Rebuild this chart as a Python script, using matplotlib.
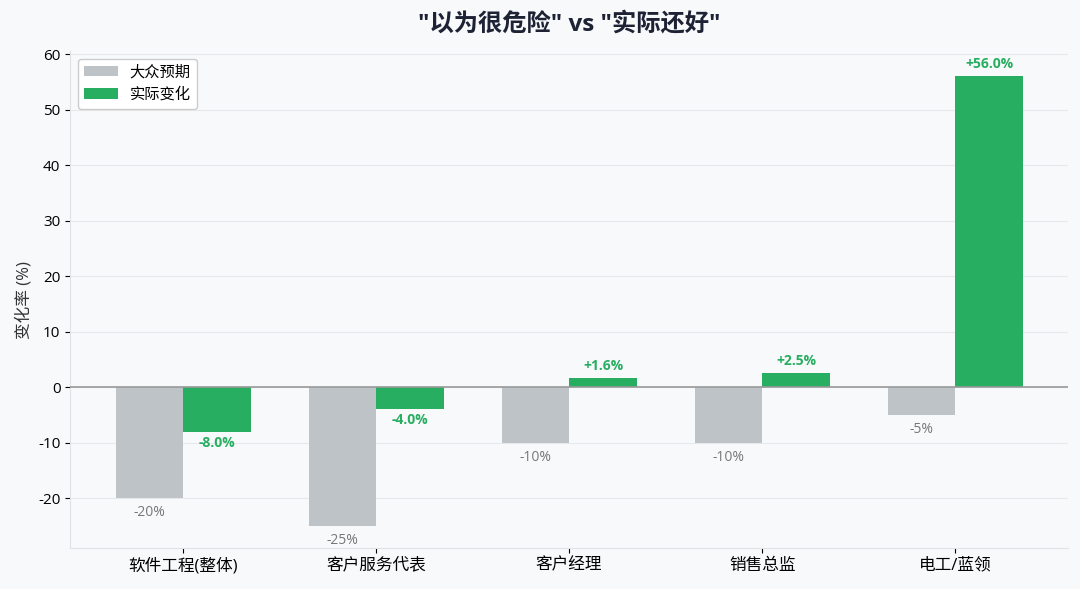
import numpy as np
import matplotlib
matplotlib.use('Agg')
import matplotlib.pyplot as plt

plt.rcParams['font.family'] = ['Open Sans', 'Noto Sans CJK SC', 'DejaVu Sans']
plt.rcParams['axes.unicode_minus'] = False

categories = ['软件工程(整体)', '客户服务代表', '客户经理', '销售总监', '电工/蓝领']
expected = [-20, -25, -10, -10, -5]
actual = [-8.0, -4.0, 1.6, 2.5, 56.0]

GRAY = '#bdc3c7'
GREEN = '#27ae60'
BG = '#f8f9fb'

fig = plt.figure(figsize=(10.8, 5.89), dpi=100, facecolor=BG)
ax = fig.add_axes([0.065, 0.0696, 0.924, 0.843])
ax.set_facecolor(BG)

x = np.arange(len(categories))
w = 0.35
b1 = ax.bar(x - w / 2, expected, w, color=GRAY, label='大众预期', zorder=2)
b2 = ax.bar(x + w / 2, actual, w, color=GREEN, label='实际变化', zorder=2)

# 标注
for rect, v in zip(b1, expected):
    ax.annotate(f'{v:d}%', (rect.get_x() + rect.get_width() / 2, v),
                xytext=(0, -5), textcoords='offset points',
                ha='center', va='top', fontsize=10, color='#777777')
for rect, v in zip(b2, actual):
    if v >= 0:
        ax.annotate(f'+{v:.1f}%', (rect.get_x() + rect.get_width() / 2, v),
                    xytext=(0, 4), textcoords='offset points',
                    ha='center', va='bottom', fontsize=10, color=GREEN, fontweight='bold')
    else:
        ax.annotate(f'{v:.1f}%', (rect.get_x() + rect.get_width() / 2, v),
                    xytext=(0, -3), textcoords='offset points',
                    ha='center', va='top', fontsize=10, color=GREEN, fontweight='bold')

ax.axhline(0, color='#999999', lw=1.2, zorder=3)
ax.set_ylim(-29, 60.5)
ax.set_yticks(range(-20, 61, 10))
ax.set_xticks(x)
ax.set_xticklabels(categories, fontsize=12)
ax.tick_params(axis='y', labelsize=11)
ax.set_ylabel('变化率 (%)', fontsize=12, color='#333333')
ax.set_title('"以为很危险" vs "实际还好"', fontsize=17.5, fontweight='bold',
             color='#1e2235', pad=15)

ax.grid(axis='y', color='#e6e8eb', lw=0.8, zorder=0)
ax.set_axisbelow(True)
for s in ['top', 'right']:
    ax.spines[s].set_visible(False)
for s in ['left', 'bottom']:
    ax.spines[s].set_color('#e0e2e5')

ax.legend(loc='upper left', fontsize=11, frameon=True, edgecolor='#cccccc',
          framealpha=1, facecolor='white', handlelength=2.2)

fig.savefig('out.png', dpi=100, facecolor=BG)
